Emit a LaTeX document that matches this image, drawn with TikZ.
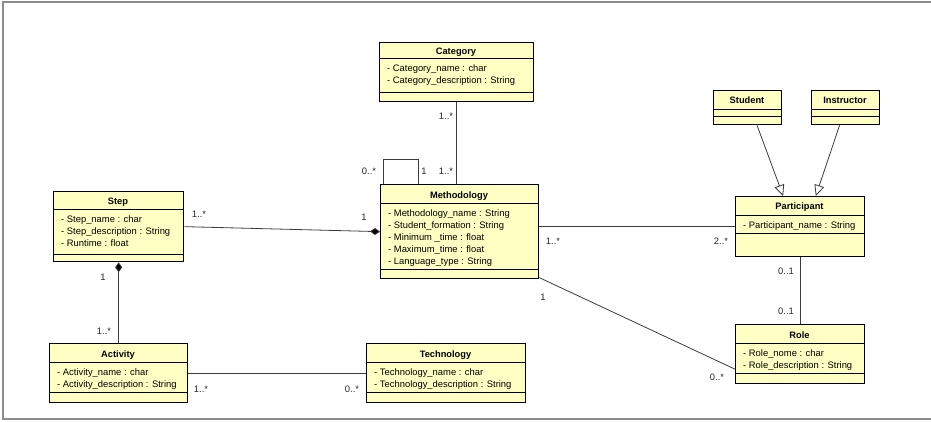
\documentclass[tikz,border=0pt]{standalone}
\usepackage{fontspec}
\setmainfont{Liberation Sans}
\usetikzlibrary{arrows.meta,calc}

\definecolor{classfill}{RGB}{255,255,196}
\definecolor{framegray}{RGB}{140,140,140}
\definecolor{linkgray}{RGB}{60,60,60}

\tikzset{
  classbox/.style={draw=black, line width=1.3pt, fill=classfill, rectangle,
    inner sep=0pt, anchor=north west},
  sepline/.style={draw=black, line width=0.8pt},
  titletext/.style={font=\fontsize{9.3}{11}\selectfont\bfseries, anchor=base, inner sep=0pt},
  attrtext/.style={font=\fontsize{9.4}{12}\selectfont, anchor=base west, inner sep=0pt},
  mult/.style={font=\fontsize{9.4}{12}\selectfont, anchor=base, inner sep=0pt, text=black!85},
  link/.style={draw=linkgray, line width=0.8pt},
  composition/.style={link, {Diamond[length=10pt,width=7pt,fill=black]}-},
  generalization/.style={link, -{Triangle[open,length=11pt,width=10pt,fill=white]}},
  frameline/.style={draw=framegray, line width=1.6pt},
}

% #1 name, #2 left, #3 top, #4 right, #5 bottom,
% #6 rule under the title, #7 rule under the attributes, #8 title, #9 attributes
\newcommand\umlclass[9]{%
  \node[classbox, minimum width={(#4-#2)*1pt}, minimum height={(#5-#3)*1pt}] (#1) at (#2,#3) {};
  \draw[sepline] (#2,#6) -- (#4,#6) (#2,#7) -- (#4,#7);
  \node[titletext] at ({(#2+#4)/2},{(#3+#6)/2+4.5}) {#8};
  \foreach \attr [count=\k] in {#9} {\node[attrtext] at (#2+8,#6+1.5+12*\k) {\attr};}
}

\begin{document}
\begin{tikzpicture}[x=1pt,y=-1pt]
  \useasboundingbox (0,0) rectangle (931,422);

  % page frame
  \draw[frameline] (931,2) -- (3,2) -- (3,419) -- (931,419);

  % classes
  \umlclass{cat}{379}{42}{533}{101}{58}{92}{Category}
    {- Category\_name : char, - Category\_description : String}
  \umlclass{meth}{380}{184}{538}{278}{203}{269}{Methodology}
    {- Methodology\_name : String, - Student\_formation : String, - Minimum \_time : float,
     - Maximum\_time : float, - Language\_type : String}
  \umlclass{step}{53}{191}{183}{261}{209}{254}{Step}
    {- Step\_name : char, - Step\_description : String, - Runtime : float}
  \umlclass{act}{49}{343}{187}{402}{362}{392}{Activity}
    {- Activity\_name : char, - Activity\_description : String}
  \umlclass{tech}{366}{343}{525}{402}{362}{392}{Technology}
    {- Technology\_name : char, - Technology\_description : String}
  \umlclass{stu}{713}{90}{781}{124}{109}{116}{Student}{}
  \umlclass{ins}{811}{90}{879}{124}{109}{116}{Instructor}{}
  \umlclass{part}{735}{196}{864}{256}{215}{233}{Participant}
    {- Participant\_name : String}
  \umlclass{role}{735}{324}{864}{383}{343}{373}{Role}
    {- Role\_nome : char, - Role\_description : String}

  % associations
  \draw[link] (cat.south) -- (cat.south |- meth.north);
  \draw[link] ($(meth.north west)+(3,0)$) -- ++(0,-25) -| ($(meth.north west)+(38,0)$);
  \draw[composition] (meth.west) -- (step.east);
  \draw[composition] (step.south) -- (act.north);
  \draw[link] (act.east) -- (tech.west);
  \draw[link] (meth.east |- part.west) -- (part.west);
  \draw[link] (meth.-30.2) -- (role.193.5);
  \draw[link] (part.south) -- (role.north);
  \draw[generalization] (stu.-62) -- (part.119);
  \draw[generalization] (ins.-109) -- (part.63);

  % multiplicities
  \node[mult] (m1) at (446,119.5) {1..*};
  \node[mult] (m2) at (446,175) {1..*};
  \node[mult] (m3) at (369,174.5) {0..*};
  \node[mult] (m4) at (424,174.5) {1};
  \node[mult] (m5) at (199,217.5) {1..*};
  \node[mult] (m6) at (364,220.5) {1};
  \node[mult] (m7) at (103,280) {1};
  \node[mult] (m8) at (104,334.5) {1..*};
  \node[mult] (m9) at (201,392.5) {1..*};
  \node[mult] (m10) at (352,392.5) {0..*};
  \node[mult] (m11) at (553,244.5) {1..*};
  \node[mult] (m12) at (721,244.5) {2..*};
  \node[mult] (m13) at (543,300.5) {1};
  \node[mult] (m14) at (717,380.5) {0..*};
  \node[mult] (m15) at (786,274.5) {0..1};
  \node[mult] (m16) at (786,314.5) {0..1};
\end{tikzpicture}
\end{document}
